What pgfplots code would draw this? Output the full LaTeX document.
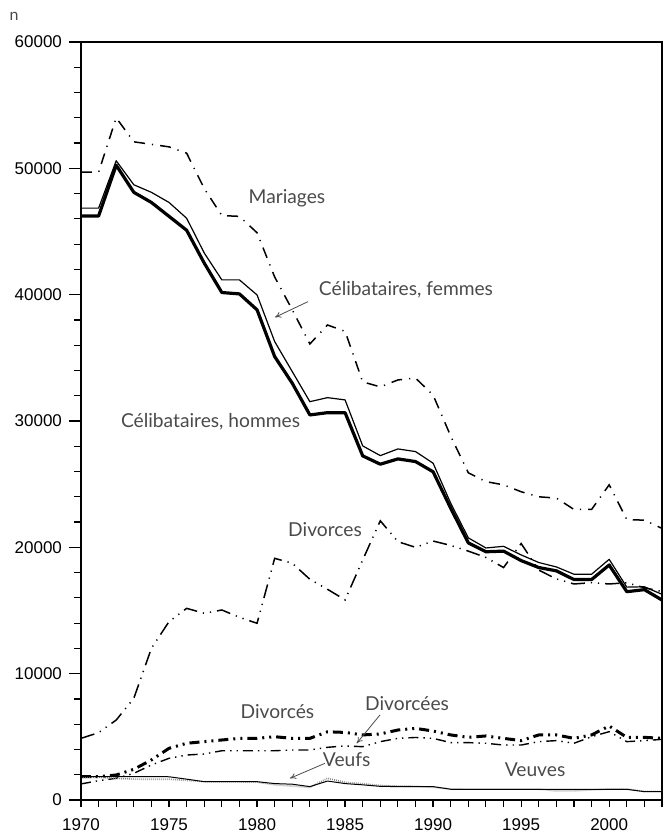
\documentclass[border=0pt]{standalone}
\usepackage{fontspec}
\setmainfont{Liberation Sans}
\newfontfamily\lab{Lato}
\usepackage{pgfplots}
\usepackage{pgfplotstable}
\usetikzlibrary{arrows.meta}
\pgfplotsset{compat=1.18}
\definecolor{labgray}{HTML}{4A4A4A}

\pgfplotstableread{
year mar fem hom div dvs dve vfs vve
1970 49700 46850 46230 4880 1850 1270 1850 1800
1971 49700 46850 46230 5330 1850 1530 1850 1800
1972 54000 50600 50250 6330 1980 1720 1850 1700
1973 52100 48700 48100 8050 2430 2110 1850 1650
1974 51900 48100 47300 12010 3170 2770 1850 1640
1975 51700 47300 46200 14120 4090 3300 1840 1640
1976 51200 46050 45100 15170 4490 3560 1650 1550
1977 48400 43300 42500 14780 4620 3640 1450 1450
1978 46260 41170 40170 15040 4750 3900 1450 1430
1979 46200 41170 40060 14460 4880 3900 1450 1430
1980 44900 39980 38800 13990 4880 3900 1450 1420
1981 41400 36290 35100 19130 5010 3900 1300 1200
1982 38800 33910 32990 18740 4880 3960 1250 1100
1983 36100 31530 30480 17470 4880 3960 1060 1000
1984 37600 31850 30660 16680 5400 4170 1500 1720
1985 37100 31670 30660 15840 5350 4280 1300 1400
1986 33100 28030 27240 19000 5150 4220 1200 1300
1987 32700 27260 26580 22100 5230 4620 1080 1150
1988 33250 27790 27000 20450 5540 4880 1060 1100
1989 33400 27580 26790 20000 5670 4950 1060 1080
1990 32050 26660 25980 20500 5460 4880 1060 1000
1991 28800 23490 23090 20150 5150 4540 850 880
1992 25900 20750 20350 19700 4960 4540 850 860
1993 25200 19950 19650 19200 5070 4490 850 860
1994 24950 20080 19700 18400 4880 4350 850 860
1995 24400 19400 18950 20300 4700 4350 850 860
1996 24000 18800 18400 18200 5150 4620 850 860
1997 23900 18450 18140 17500 5150 4700 850 720
1998 23000 17870 17450 17100 4880 4490 850 720
1999 23000 17870 17450 17200 5150 5010 850 800
2000 24950 19050 18600 17100 5860 5410 850 860
2001 22200 16850 16490 17200 4960 4620 850 860
2002 22150 16880 16650 16800 4960 4700 660 680
2003 21500 16280 15830 16500 4880 4800 660 680
}\data

\begin{document}
\begin{tikzpicture}
\begin{axis}[
  at={(0,0)}, anchor=south west,
  scale only axis, width=290.5pt, height=379pt,
  xmin=1970, xmax=2003, ymin=0, ymax=60000,
  xtick={1970,1975,...,2000},
  minor xtick={1970,...,2003},
  ytick={0,10000,...,60000},
  minor ytick={0,2000,...,60000},
  tick pos=left,
  tick align=outside,
  major tick length=6pt, minor tick length=3.5pt,
  major x tick style={draw=none},
  tick style={line width=0.6pt, black},
  scaled y ticks=false,
  /pgf/number format/assume math mode=true,
  yticklabel style={/pgf/number format/fixed, /pgf/number format/1000 sep={}},
  xticklabel style={/pgf/number format/1000 sep={}},
  ticklabel style={font=\fontsize{8.5}{10}\selectfont},
  axis line style={line width=0.6pt},
  clip mode=individual,
]
\addplot[black, line width=0.75pt, dash pattern=on 5.5pt off 3.5pt on 0.6pt off 3.5pt] table[x=year,y=mar] {\data};
\addplot[black, line width=0.75pt, dash pattern=on 7pt off 3pt on 0.6pt off 3pt on 0.6pt off 3pt] table[x=year,y=div] {\data};
\addplot[black, line width=1.6pt, line join=round] table[x=year,y=hom] {\data};
\addplot[black, line width=0.6pt, line join=round] table[x=year,y=fem] {\data};
\addplot[black, line width=1.5pt, dash pattern=on 5pt off 2.5pt on 1pt off 2.5pt on 1pt off 2.5pt] table[x=year,y=dvs] {\data};
\addplot[black, line width=0.7pt, dash pattern=on 5pt off 2.5pt on 0.7pt off 2.5pt on 0.7pt off 2.5pt] table[x=year,y=dve] {\data};
\addplot[gray, line width=0.8pt, dash pattern=on 0.4pt off 0.6pt] table[x=year,y=vve] {\data};
\addplot[black, line width=0.5pt] table[x=year,y=vfs] {\data};

\draw[line width=1.3pt] (rel axis cs:0,0) -- (rel axis cs:0,1);
\draw[line width=1.3pt] (rel axis cs:0,0) -- (rel axis cs:1,0);
\draw[line width=1.1pt] (rel axis cs:0,1) -- (rel axis cs:1,1);

\begin{scope}[every node/.style={font=\lab\fontsize{9.6}{11}\selectfont, text=labgray, inner sep=0pt}]
\node at (axis cs:1981.70,47654) {Mariages};
\node at (axis cs:1988.46,40372) {Célibataires, femmes};
\node at (axis cs:1977.36,29947) {Célibataires, hommes};
\node at (axis cs:1983.86,21373) {Divorces};
\node at (axis cs:1981.16,6990) {Divorcés};
\node at (axis cs:1988.52,7655) {Divorcées};
\node at (axis cs:1985.09,3166) {Veufs};
\node at (axis cs:1995.79,2375) {Veuves};
\end{scope}
\draw[labgray, line width=0.4pt, -{To[length=3pt,width=3pt]}] (axis cs:1982.89,39446) -- (axis cs:1981.02,38211);
\draw[labgray, line width=0.4pt, -{To[length=3pt,width=3pt]}] (axis cs:1986.98,6729) -- (axis cs:1985.66,4489);
\draw[labgray, line width=0.4pt, -{To[length=3pt,width=3pt]}] (axis cs:1983.86,2905) -- (axis cs:1981.87,1718);
\end{axis}
\node[font=\lab\fontsize{8}{9}\selectfont, text=labgray, inner sep=0pt] at (-33.5pt,392pt) {n};
\pgfresetboundingbox
\path (-40.5pt,-18pt) rectangle (293.5pt,400pt);
\end{tikzpicture}
\end{document}
